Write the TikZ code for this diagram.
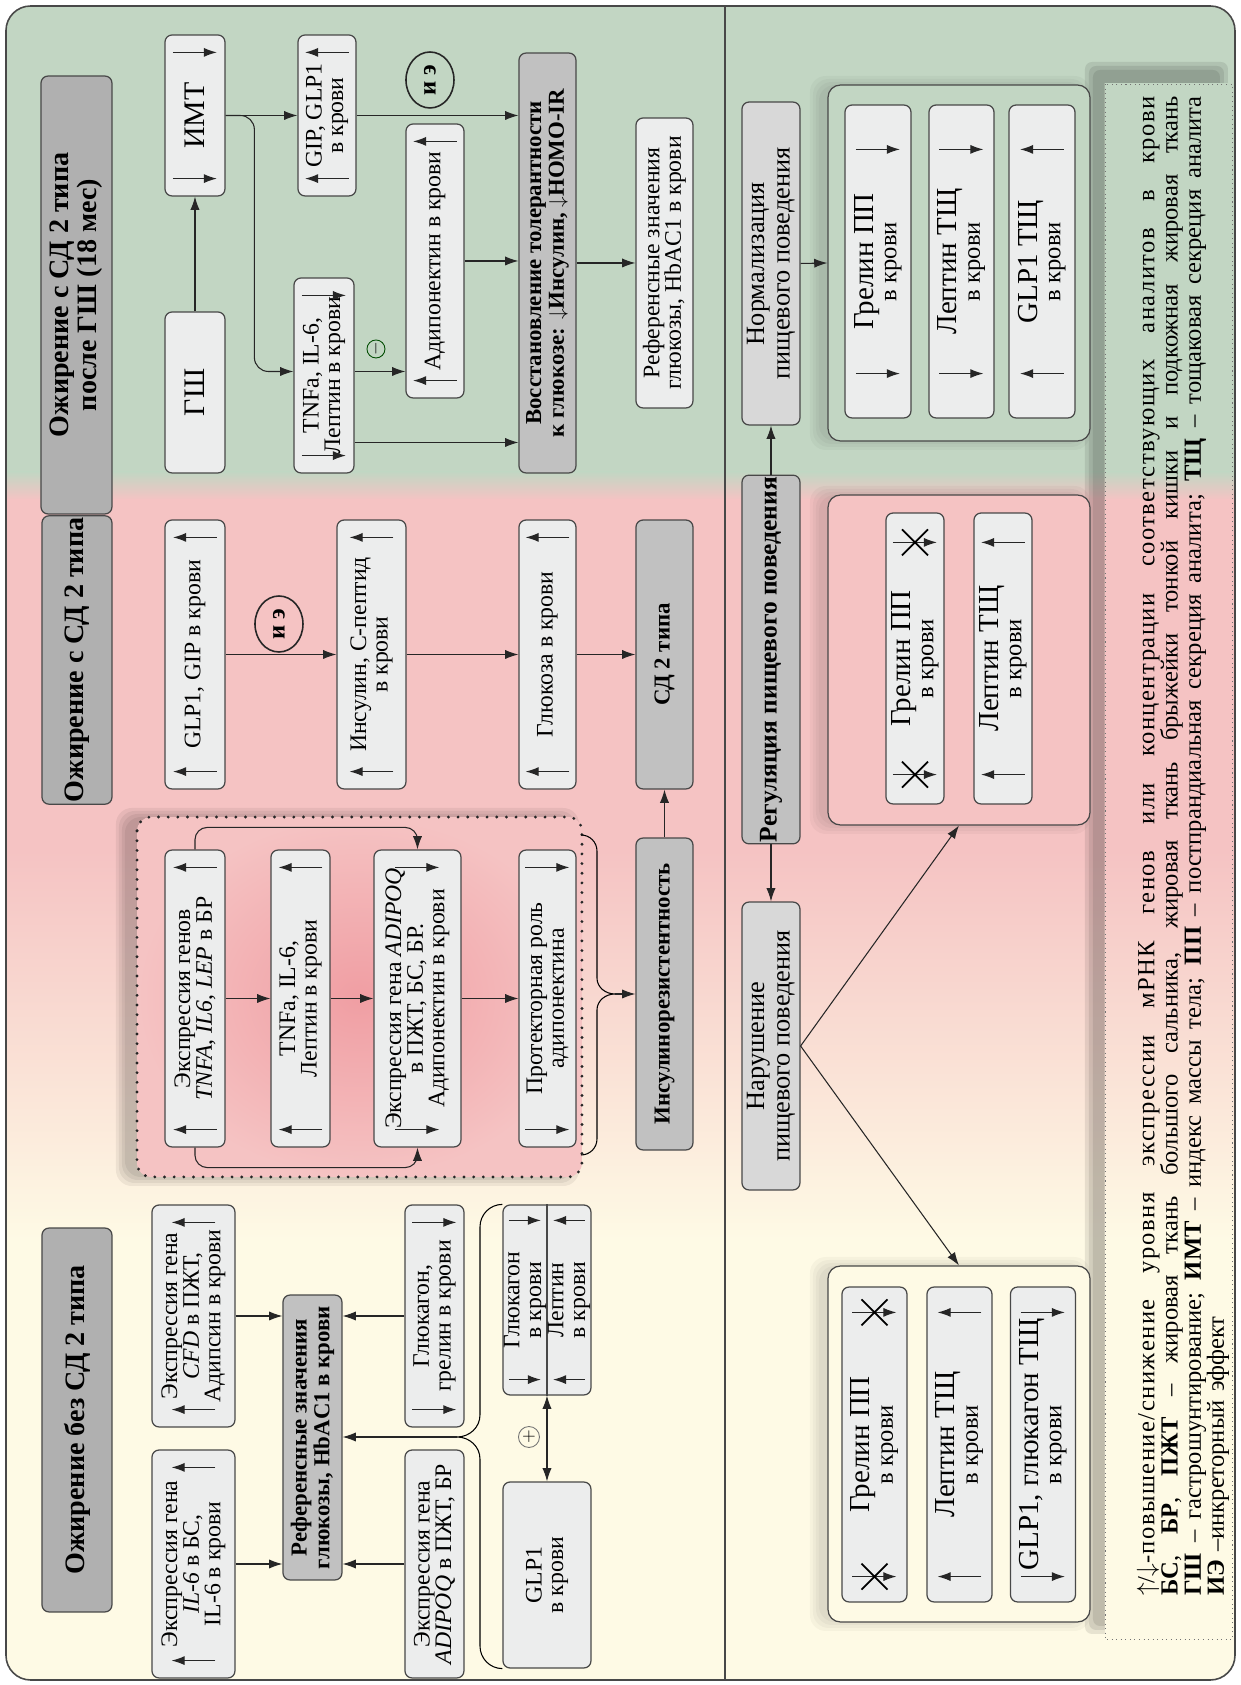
\documentclass[tikz,border=0pt]{standalone}
\usepackage{fontspec}
\setmainfont{Liberation Serif}
\usepackage{xcolor}
\definecolor{fonzel}{RGB}{194,214,195}
\definecolor{fonroz}{RGB}{245,195,195}
\definecolor{fonrozt}{RGB}{240,158,163}
\definecolor{fonkrem}{RGB}{254,250,229}
\definecolor{blok}{RGB}{236,237,237}
\definecolor{bloksr}{RGB}{216,216,216}
\definecolor{bloktemn}{RGB}{193,193,193}
\definecolor{zagol}{RGB}{176,176,176}
\definecolor{rama}{RGB}{72,72,72}
\usetikzlibrary{arrows.meta,calc,positioning,shapes.geometric}

\newcommand\paintbg{%
  \fill[fonkrem] (-1241,0) rectangle (0,1685);
  \fill[fonzel] (-1241,1212) rectangle (0,1685);
  \shade[top color=fonzel,bottom color=fonroz] (-1241,1185) rectangle (0,1213);
  \fill[fonroz] (-1241,834) rectangle (0,1186);
  \shade[top color=fonroz,bottom color=fonkrem] (-1241,445) rectangle (0,835);}
\newcommand\blurshadow[6]{%
  \foreach \o in {0,3,6,9}
    \fill[black,opacity=#6,rounded corners=9pt] (#1-\o,#2+#5-\o) rectangle (#3+\o,#4+#5+\o);}
\newcommand\upmark[2][18]{%
  \foreach \side/\dd in {west/1,east/-1}{%
    \draw[inarr] ($(#2.\side)+(\dd*#1,-22)$) -- ($(#2.\side)+(\dd*#1,22)$);}}
\newcommand\dnmark[2][18]{%
  \foreach \side/\dd in {west/1,east/-1}{%
    \draw[inarr] ($(#2.\side)+(\dd*#1,22)$) -- ($(#2.\side)+(\dd*#1,-22)$);}}
\newcommand\crossdn[2][28]{%
  \foreach \side/\dd in {west/1,east/-1}{%
    \draw[inarr] ($(#2.\side)+(\dd*#1,22)$) -- ($(#2.\side)+(\dd*#1,-22)$);
    \draw[line width=1pt] ($(#2.\side)+(\dd*#1-13,-13)$) -- ($(#2.\side)+(\dd*#1+13,13)$)
      ($(#2.\side)+(\dd*#1-13,13)$) -- ($(#2.\side)+(\dd*#1+13,-13)$);}}
\newcommand\legline[1]{\noindent\hbox to 30cm{\spaceskip=.3em plus 1fil\relax #1}}

\begin{document}
\begin{tikzpicture}[x=0.02cm,y=0.02cm,>={Latex[length=7.5pt,width=5.2pt]},
    cell/.style={draw=rama,line width=0.7pt,rounded corners=4pt,fill=blok,align=center,inner sep=1pt,font=\fontsize{13.5}{12.3}\selectfont},
    cellt/.style={cell,fill=bloktemn,font=\bfseries\fontsize{13}{13}\selectfont},
    cellmid/.style={cell,fill=bloksr,font=\fontsize{15}{14.5}\selectfont},
    cellp/.style={cell,font=\fontsize{14}{13}\selectfont},
    titlebox/.style={cell,fill=zagol,font=\bfseries\fontsize{16}{16}\selectfont},
    conn/.style={->,line width=0.6pt,draw=black!85},
    inarr/.style={->,line width=0.75pt,draw=black!85},
    panel/.style={draw=rama,line width=0.7pt,rounded corners=7pt},
    dotframe/.style={draw=black!85,line width=1.8pt,line cap=round,dash pattern=on 0pt off 5.5pt,rounded corners=8pt,inner color=fonrozt,outer color=fonroz},
    ie/.style={draw=black!85,line width=0.9pt,ellipse,minimum width=1.12cm,minimum height=0.96cm,inner sep=0pt,font=\bfseries\fontsize{14}{14}\selectfont},
    sign/.style={circle,draw=black!55,line width=0.5pt,inner sep=0pt,minimum size=0.42cm}]
    \useasboundingbox (-1241,0) rectangle (0,1685);
    \begin{scope}
      \clip[rounded corners=14pt] (-1235,5) rectangle (-6,1679);
      \paintbg
      \foreach \o in {0,4,8}
        \fill[black,opacity=.09,rounded corners=4pt] (-148-\o,59-\o) rectangle (-21+\o,1615+\o);
    \end{scope}
    \begin{scope}
      \clip (-136,45) rectangle (-9,1601);
      \paintbg
    \end{scope}
    \draw[rama,line width=0.9pt,rounded corners=14pt] (-1235,5) rectangle (-6,1679);

    \begin{scope}[rotate=90,transform shape]
    \draw[rama,line width=0.8pt] (5,516) -- (1680,516);

    \node[titlebox,minimum width=7.68cm,minimum height=1.4cm] (title1) at (265,1164) {Ожирение без СД 2 типа};
    \node[cell,minimum width=4.56cm,minimum height=1.66cm] (il6) at (121,1047.5) {Экспрессия гена\\\textit{IL-6} в БС,\\IL-6 в крови};
    \node[cell,minimum width=4.44cm,minimum height=1.66cm] (cfd) at (369,1047.5) {Экспрессия гена\\\textit{CFD} в ПЖТ,\\Адипсин в крови};
    \node[cellt,minimum width=5.7cm,minimum height=1.18cm] (ref1) at (247.5,928.5) {Референсные значения\\глюкозы, HbAC1 в крови};
    \node[cell,minimum width=4.44cm,minimum height=1.18cm] (gluc) at (369,806.5) {Глюкагон,\\грелин в крови};
    \node[cell,minimum width=4.56cm,minimum height=1.18cm] (adipoq1) at (121,806.5) {Экспрессия гена\\\textit{ADIPOQ} в ПЖТ, БР};
    \node[cell,minimum width=3.8cm,minimum height=1.76cm] (split) at (385,694) {};
    \draw[rama,line width=0.7pt] (split.west) -- (split.east);
    \node[cell,draw=none,fill=none] (splitup) at ($(split.center)+(0,22)$) {Глюкагон\\в крови};
    \node[cell,draw=none,fill=none] (splitlo) at ($(split.center)+(0,-22)$) {Лептин\\в крови};
    \node[cell,minimum width=3.72cm,minimum height=1.76cm] (glp1) at (110,694) {GLP1\\в крови};
    \upmark{il6}
    \upmark{cfd}
    \dnmark{gluc}
    \foreach \side/\dd in {west/1,east/-1}{
      \draw[inarr] ($(split.\side)+(\dd*16,38)$) -- ($(split.\side)+(\dd*16,6)$);
      \draw[inarr] ($(split.\side)+(\dd*16,-38)$) -- ($(split.\side)+(\dd*16,-6)$);}
    \draw[conn] (il6.south) -- (il6.south |- ref1.north);
    \draw[conn] (cfd.south) -- (cfd.south |- ref1.north);
    \draw[conn] (gluc.north) -- (gluc.north |- ref1.south);
    \draw[conn] (adipoq1.north) -- (adipoq1.north |- ref1.south);
    \draw[conn,<->] (glp1.east) -- (split.west);
    \node[sign] (plus) at (248,712) {$+$};
    \coordinate (brtip1) at (248,784);
    \draw[line width=0.6pt] (split.north east) to[out=90,in=0] (458,761) -- (270,761) to[out=180,in=-90] (brtip1)
      to[out=-90,in=0] (226,761) -- (39,761) to[out=180,in=90] (glp1.north west);
    \draw[conn] (brtip1) -- (brtip1 |- ref1.south);

    \node[titlebox,minimum width=5.6cm,minimum height=1.4cm] (title2) at (1025,1164) {Ожирение с СД 2 типа};
    \blurshadow{508}{659}{868}{1104}{12}{.06}
    \node[dotframe,minimum width=7.2cm,minimum height=8.9cm] (dotbox) at (688,881.5) {};
    \node[cell,minimum width=5.94cm,minimum height=1.2cm] (exprgenes) at (686.5,1046) {Экспрессия генов\\\textit{TNFA}, \textit{IL6}, \textit{LEP} в БР};
    \node[cell,minimum width=5.94cm,minimum height=1.18cm] (tnfa1) at (686.5,940.5) {TNFa, IL-6,\\Лептин в крови};
    \node[cell,minimum width=5.94cm,minimum height=1.74cm] (adipoq2) at (686.5,823.5) {Экспрессия гена \textit{ADIPOQ}\\в ПЖТ, БС, БР.\\Адипонектин в крови};
    \node[cell,minimum width=5.94cm,minimum height=1.14cm] (protect) at (686.5,693.5) {Протекторная роль\\адипонектина};
    \upmark{exprgenes}
    \upmark{tnfa1}
    \dnmark{adipoq2}
    \dnmark{protect}
    \draw[conn] (exprgenes.south) -- (tnfa1.north);
    \draw[conn] (tnfa1.south) -- (adipoq2.north);
    \draw[conn] (adipoq2.south) -- (protect.north);
    \draw[conn,rounded corners=7pt] (exprgenes.east) -- ++(22,0) |- (adipoq2.east);
    \draw[conn,rounded corners=7pt] (exprgenes.west) -- ++(-20,0) |- (adipoq2.west);
    \node[cellt,minimum width=6.24cm,minimum height=1.14cm] (insulres) at (691,576.5) {Инсулинорезистентность};
    \coordinate (br2a) at (850,660);
    \coordinate (br2b) at (530,660);
    \coordinate (brtip2) at (691,626);
    \draw[line width=0.6pt] (br2a) to[out=-90,in=0] (834,644) -- (707,644) to[out=180,in=90] (brtip2)
      to[out=90,in=0] (675,644) -- (546,644) to[out=180,in=-90] (br2b);
    \draw[conn] (brtip2) -- (insulres.north);
    \node[cellt,minimum width=5.38cm,minimum height=1.14cm] (sd2) at (1030.5,576.5) {СД 2 типа};
    \draw[conn] (insulres.east) -- (sd2.west);
    \node[cell,minimum width=5.38cm,minimum height=1.2cm] (glp1gip) at (1030.5,1046) {GLP1, GIP в крови};
    \node[cell,minimum width=5.38cm,minimum height=1.38cm] (insulin) at (1030.5,869.5) {Инсулин, С-пептид\\в крови};
    \node[cell,minimum width=5.38cm,minimum height=1.14cm] (glucose) at (1030.5,693.5) {Глюкоза в крови};
    \upmark{glp1gip}
    \upmark{insulin}
    \upmark{glucose}
    \draw[conn] (glp1gip.south) -- (insulin.north);
    \draw[conn] (insulin.south) -- (glucose.north);
    \draw[conn] (glucose.south) -- (sd2.north);
    \node[ie] (ie1) at (1061,962) {и э};

    \node[titlebox,minimum width=8.76cm,minimum height=1.42cm] (title3) at (1390,1164.5) {Ожирение с СД 2 типа\\после ГШ (18 мес)};
    \node[cell,font=\fontsize{17}{17}\selectfont,minimum width=3.22cm,minimum height=1.2cm] (imt) at (1569.5,1046) {ИМТ};
    \node[cell,font=\fontsize{17}{17}\selectfont,minimum width=3.22cm,minimum height=1.2cm] (gsh) at (1292.5,1046) {ГШ};
    \node[cell,minimum width=3.22cm,minimum height=1.16cm] (gipglp) at (1569.5,914) {GIP, GLP1\\в крови};
    \node[cell,minimum width=3.9cm,minimum height=1.2cm] (tnfa2) at (1309.5,917) {TNFa, IL-6,\\Лептин в крови};
    \node[cell,minimum width=5.48cm,minimum height=1.16cm] (adipo3) at (1424,806) {Адипонектин в крови};
    \node[cellt,minimum width=8.4cm,minimum height=1.14cm] (vosst) at (1422,693.5) {Восстановление толерантности\\к глюкозе: $\downarrow$Инсулин, $\downarrow$HOMO-IR};
    \node[cell,minimum width=5.8cm,minimum height=1.14cm] (ref3) at (1422,576.5) {Референсные значения\\глюкозы, HbAC1 в крови};
    \node[ie] (ie2) at (1605,811) {и э};
    \node[sign,draw=green!30!black,minimum size=0.36cm] (minus) at (1336,865) {$-$};
    \dnmark{imt}
    \upmark{gipglp}
    \dnmark{tnfa2}
    \upmark{adipo3}
    \coordinate (t2n) at ($(tnfa2.north)+(4,0)$);
    \coordinate (t2s) at ($(tnfa2.south)+(4,0)$);
    \coordinate (t2v) at ($(tnfa2.south)+(-67,0)$);
    \draw[conn] (gsh.east) -- (imt.west);
    \draw[conn] (imt.south) -- (gipglp.north);
    \draw[conn] (gipglp.south) -- (gipglp.south |- vosst.north);
    \draw[conn,rounded corners=8pt] (imt.south) |- ($(t2n)+(0,39)$) -- (t2n);
    \draw[conn] (t2s) -- (t2s |- adipo3.north);
    \draw[conn] (t2v) -- (t2v |- vosst.north);
    \draw[conn] (adipo3.south) -- (adipo3.south |- vosst.north);
    \draw[conn] (vosst.south) -- (ref3.north);

    \node[cellmid,minimum width=6.46cm,minimum height=1.16cm] (norm) at (1421.5,470) {Нормализация\\пищевого поведения};
    \node[cellmid,fill=bloktemn,font=\bfseries\fontsize{14.5}{14.5}\selectfont,minimum width=7.22cm,minimum height=1.16cm] (reg) at (1025.5,470) {Регуляция пищевого поведения};
    \node[cellmid,minimum width=5.76cm,minimum height=1.16cm] (narush) at (639,470) {Нарушение\\пищевого поведения};
    \draw[conn] (reg.east) -- (norm.west);
    \draw[conn] (reg.west) -- (narush.east);
    \blurshadow{1244}{151}{1600}{413}{9}{.03}
    \blurshadow{860}{151}{1190}{413}{9}{.03}
    \blurshadow{63}{151}{419}{413}{9}{.03}
    \node[panel,fill=fonzel,minimum width=7.12cm,minimum height=5.24cm] (gpanel) at (1422,282) {};
    \node[panel,fill=fonroz,minimum width=6.6cm,minimum height=5.24cm] (ppanel) at (1025,282) {};
    \node[panel,fill=fonkrem,minimum width=7.12cm,minimum height=5.24cm] (cpanel) at (241,282) {};
    \draw[conn] (norm.south) -- (gpanel.north);
    \draw[conn] (narush.south) -- (ppanel.west);
    \draw[conn] (narush.south) -- (cpanel.east);
    \node[cellp,minimum width=6.26cm,minimum height=1.32cm] (gb1) at (1423.5,363) {{\fontsize{16.5}{16.5}\selectfont Грелин ПП}\\в крови};
    \node[cellp,minimum width=6.26cm,minimum height=1.3cm] (gb2) at (1423.5,279.5) {{\fontsize{16.5}{16.5}\selectfont Лептин ТЩ}\\в крови};
    \node[cellp,minimum width=6.26cm,minimum height=1.32cm] (gb3) at (1423.5,199) {{\fontsize{16.5}{16.5}\selectfont GLP1 ТЩ}\\в крови};
    \dnmark[45]{gb1}
    \dnmark[45]{gb2}
    \upmark[45]{gb3}
    \node[cellp,minimum width=5.82cm,minimum height=1.16cm] (pb1) at (1026.5,326) {{\fontsize{16.5}{16.5}\selectfont Грелин ПП}\\в крови};
    \node[cellp,minimum width=5.82cm,minimum height=1.16cm] (pb2) at (1026.5,238) {{\fontsize{16.5}{16.5}\selectfont Лептин ТЩ}\\в крови};
    \crossdn[30]{pb1}
    \upmark[30]{pb2}
    \node[cellp,minimum width=6.3cm,minimum height=1.3cm] (cb1) at (240.5,366.5) {{\fontsize{16.5}{16.5}\selectfont Грелин ПП}\\в крови};
    \node[cellp,minimum width=6.3cm,minimum height=1.3cm] (cb2) at (240.5,281.5) {{\fontsize{16.5}{16.5}\selectfont Лептин ТЩ}\\в крови};
    \node[cellp,minimum width=6.3cm,minimum height=1.3cm] (cb3) at (240.5,198) {{\fontsize{16.5}{16.5}\selectfont GLP1, глюкагон ТЩ}\\в крови};
    \crossdn[26]{cb1}
    \upmark[26]{cb2}
    \dnmark[26]{cb3}

    \node[draw=black!55,line width=0.5pt,dash pattern=on 0.6pt off 2pt,minimum width=31.12cm,minimum height=2.54cm] (legendbox) at (823,72.5) {};
    \node[align=left,text width=30cm,inner sep=0pt,font=\fontsize{14}{13.2}\selectfont] (legend) at (839,58) {%
      \legline{\addfontfeature{LetterSpace=6}$\uparrow$/$\downarrow$-повышение/снижение уровня экспрессии мРНК генов или концентрации соответствующих аналитов в крови}\\
      \legline{\textbf{БС}, \textbf{БР}, \textbf{ПЖТ} – жировая ткань большого сальника, жировая ткань брыжейки тонкой кишки и подкожная жировая ткань}\\
      \legline{\textbf{ГШ} – гастрошунтирование; \textbf{ИМТ} – индекс массы тела; \textbf{ПП} – постпрандиальная секреция аналита; \textbf{ТЩ} – тощаковая секреция аналита}\\
      \textbf{ИЭ} –инкреторный эффект};
    \end{scope}
\end{tikzpicture}
\end{document}
